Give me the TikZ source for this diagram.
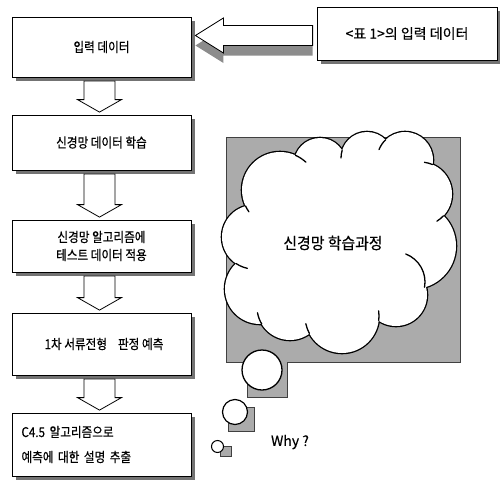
\documentclass[tikz,border=0pt]{standalone}
\usepackage{fontspec}
\newfontfamily\kr[FakeStretch=0.86, FakeBold=0.5]{Noto Sans CJK KR}
\newfontfamily\krm[FakeStretch=0.93, FakeBold=0.5]{Noto Sans CJK KR}
\newfontfamily\krw[FakeBold=0.4]{Noto Sans CJK KR}
\usetikzlibrary{calc,shadows}
\newcommand\downblock[2]{%
  \draw[barrow] ($(#1.south)+(-17.5,3.5)$) -- ($(#1.south)+(13.5,3.5)$)
    -- ($(#2.north)+(13.5,-15)$) -- ($(#2.north)+(20,-15)$)
    -- ($(#2.north)+(-2,-2.5)$) -- ($(#2.north)+(-24,-15)$)
    -- ($(#2.north)+(-17.5,-15)$) -- cycle;}
\newcommand\leftblock[1]{%
  (la-tip) -- ($(la-tip)+(28,-17.5)$) -- ($(la-tip)+(28,-10)$)
  -- ($(la-tail)+(0,-10)$) -- ($(la-tail)+(0,10)$)
  -- ($(la-tip)+(28,10)$) -- ($(la-tip)+(28,17.5)$) -- cycle}
\begin{document}
\begin{tikzpicture}[x=1pt,y=-1pt,
  box/.style={draw=black, line width=0.8pt, fill=white, minimum width=179pt,
    inner sep=0pt, align=center, font=\kr\fontsize{13.5}{18}\selectfont,
    drop shadow={shadow xshift=3.5pt, shadow yshift=-3.5pt, opacity=1, fill=black!55}},
  barrow/.style={draw=black, line width=0.8pt, fill=white, line join=miter},
  shaded/.style={fill=black!33},
  shadeedge/.style={draw=black!75, line width=0.6pt},
  cloudedge/.style={line width=1.3pt, line cap=round},
]
\useasboundingbox (0,0) rectangle (500,479);

% ---- left column boxes ----
\node[box, minimum height=60pt] (b1) at (101.5,47) {입력 데이터};
\node[box, minimum height=55pt] (b2) at (101.5,142.5) {신경망 데이터 학습};
\node[box, minimum height=52pt] (b3) at (101.5,246) {신경망 알고리즘에\\테스트 데이터 적용};
\node[box, minimum height=62pt] (b4) at (101.5,344) {\hspace*{5pt}1차 서류전형\hspace{11pt}판정 예측};
\node[box, minimum height=63pt, text width=160pt, inner xsep=9.5pt, align=left,
      font=\kr\fontsize{13.5}{25}\selectfont] (b5) at (101.5,444.5)
      {C4.5 알고리즘으로\\예측에 대한 설명 추출};
\node[box, minimum width=180pt, minimum height=53pt, font=\krw\fontsize{14}{18}\selectfont]
      (rb) at (407,33.5) {<표 1>의 입력 데이터};

% ---- down block arrows ----
\downblock{b1}{b2}
\downblock{b2}{b3}
\downblock{b3}{b4}
\downblock{b4}{b5}

% ---- left block arrow ----
\coordinate (la-tail) at ($(rb.west)+(-4,2)$);
\coordinate (la-tip) at ($(b1.east |- la-tail)+(4,0)$);
\fill[black!45, transform canvas={yshift=-10pt}] \leftblock{};
\draw[barrow] \leftblock{};

% ---- cloud backdrop ----
\path[shaded, shadeedge] (226,137) -- (460,137) -- (460,362) -- (287,362)
  -- (287,397) -- (247,397) -- (247,362) -- (226,362) -- cycle;

% ---- cloud ----
\foreach \cx/\cy/\r in {280/190/38, 320/164/26, 367/158/26, 405/160/28, 420/194/32,
    413/246/43, 396/295/31, 342/316/37, 290/307/33, 260/289/35, 254/237/32}
  \draw[line width=2.6pt] (\cx,\cy) circle[radius=\r pt];
\foreach \cx/\cy/\r in {280/190/38, 320/164/26, 367/158/26, 405/160/28, 420/194/32,
    413/246/43, 396/295/31, 342/316/37, 290/307/33, 260/289/35, 254/237/32}
  \fill[white] (\cx,\cy) circle[radius=\r pt];
\fill[white] (280,190) -- (320,164) -- (367,158) -- (405,160) -- (420,194)
  -- (413,246) -- (396,295) -- (342,316) -- (290,307) -- (260,289) -- (254,237) -- cycle;
% small tails where the bumps meet
\foreach \cx/\cy/\r/\a/\b in {280/190/38/66/47, 280/190/38/205/215, 367/158/26/163/180,
    405/160/28/134/158, 420/194/32/67/82, 420/194/32/-43/-58, 395/282/30/-10/69,
    342/316/37/-7/8, 342/316/37/208/192, 290/307/33/211/190, 254/237/32/236/258}
  \draw[cloudedge] (\cx,\cy) ++(\a:\r pt) arc[start angle=\a, end angle=\b, radius=\r pt];

\node[font=\krm\fontsize{16}{18}\selectfont] (ct) at (333,243) {신경망 학습과정};

% ---- thought bubbles ----
\draw[line width=1.3pt, fill=white] (262,370) circle[radius=20pt];
\path[shaded, shadeedge] (228,407) rectangle (254,431);
\draw[line width=1.2pt, fill=white] (235,412) circle[radius=12.5pt];
\path[shaded, shadeedge] (220,446.5) rectangle (231,456.5);
\draw[line width=1pt, fill=white] (217.5,446.5) circle[radius=6pt];

\node[font=\krw\fontsize{14}{16}\selectfont] (why) at (290,442) {Why ?};
\end{tikzpicture}
\end{document}
